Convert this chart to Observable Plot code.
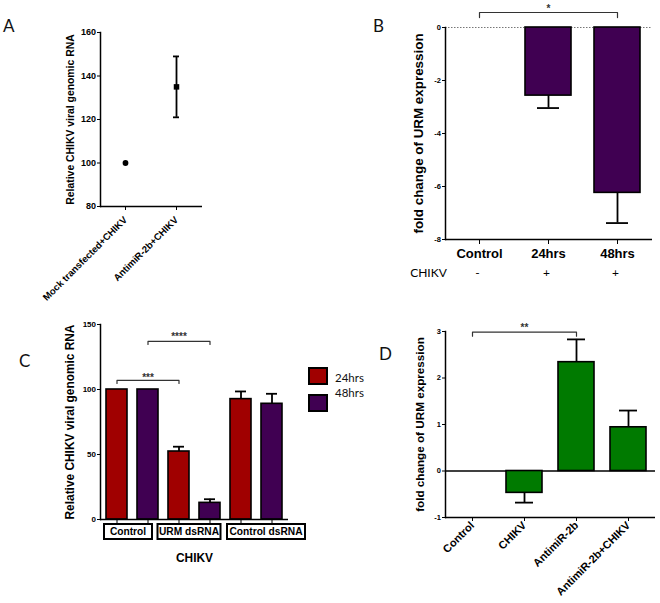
<!DOCTYPE html>
<html><head><meta charset="utf-8">
<script src="https://cdn.jsdelivr.net/npm/d3@7"></script>
<script src="https://cdn.jsdelivr.net/npm/@observablehq/plot@0.6"></script>
<style>
body{margin:0;background:#fff}
#fig{position:relative;width:660px;height:603px;overflow:hidden;background:#fff}
#fig svg{position:absolute}
.letter{position:absolute;font-family:Lato,'Open Sans',sans-serif;font-size:17px;line-height:17px;color:#111}
.box{position:absolute;border:2px solid #000;box-sizing:border-box;font:bold 10.2px 'Liberation Sans',Arial,sans-serif;text-align:center;height:17px;line-height:13px;transform:translateX(-50%);white-space:nowrap;background:#fff;color:#000}
.sw{position:absolute;width:20px;height:18px;border:2px solid #000;box-sizing:border-box}
.lt{position:absolute;font-family:Lato,'Open Sans',sans-serif;font-size:11.5px;line-height:11.5px;color:#111}
</style></head><body><div id="fig"></div><script>
// ---------- Panel A ----------
const aGroups = ["Mock transfected+CHIKV", "AntimiR-2b+CHIKV"];
const aMeans = [100, 135];
const aErrors = [0, 14];
const aSymbols = ["circle", "square"];
const aTicks = [80, 100, 120, 140, 160];
const aLabel = "Relative CHIKV viral genomic RNA";

// ---------- Panel B ----------
const bGroups = ["Control", "24hrs", "48hrs"];
const bMeans = [0, -2.57, -6.24];
const bErrors = [0, 0.47, 1.14];
const bChikv = ["-", "+", "+"];
const bTicks = [0, -2, -4, -6, -8];
const bLabel = "fold change of URM expression";
const bSig = [{from: "Control", to: "48hrs", mid: "24hrs", y: 0.566, drop: 0.19, ty: 0.72, label: "*"}];

// ---------- Panel C ----------
const cGroups = ["Control", "URM dsRNA", "Control dsRNA"];
const cSeries = ["24hrs", "48hrs"];
const c24 = [100, 52.3, 92.6];
const c24Err = [0, 3.7, 5.9];
const c48 = [100, 12.8, 89.0];
const c48Err = [0, 2.8, 7.7];
const cTicks = [0, 50, 100, 150];
const cLabel = "Relative CHIKV viral genomic RNA";
const cXLabel = "CHIKV";
const cSig = [
  {from: "Control|24hrs", to: "URM dsRNA|24hrs", mid: "Control|48hrs", y: 107, drop: 2.4, ty: 108.8, label: "***"},
  {from: "Control|48hrs", to: "URM dsRNA|48hrs", mid: "URM dsRNA|24hrs", y: 137, drop: 2.4, ty: 140.4, label: "****"}
];

// ---------- Panel D ----------
const dGroups = ["Control", "CHIKV", "AntimiR-2b", "AntimiR-2b+CHIKV"];
const dMeans = [0, -0.47, 2.34, 0.94];
const dErrors = [0, 0.21, 0.49, 0.36];
const dTicks = [-1, 0, 1, 2, 3];
const dLabel = "fold change of URM expression";
const dSig = [{from: "Control", to: "AntimiR-2b", mid: "CHIKV", y: 2.985, drop: 0.086, ty: 3.075, label: "**"}];

// ---------- styles ----------
const RED = "#a00000", PURPLE = "#400052", GREEN = "#007a00";
const FONT = "'Liberation Sans', Arial, sans-serif";
const baseStyle = {fontFamily: FONT, background: "transparent", overflow: "visible", color: "#000"};
const fig = document.getElementById("fig");
const plain = d => String(d);

function bracket(sig) {
  const pts = [];
  sig.forEach((s, i) => {
    pts.push({id: i, x: s.from, y: s.y - s.drop});
    pts.push({id: i, x: s.from, y: s.y});
    pts.push({id: i, x: s.to, y: s.y});
    pts.push({id: i, x: s.to, y: s.y - s.drop});
  });
  return [
    Plot.line(pts, {x: "x", y: "y", z: "id", stroke: "#333", strokeWidth: 1.2}),
    Plot.text(sig, {x: "mid", y: "ty", text: "label", fontSize: 10, fontWeight: "bold", fill: "#333"})
  ];
}
function yTitle(label, dx, size) {
  return Plot.text([label], {frameAnchor: "left", textAnchor: "middle", rotate: -90, dx, fontSize: size, fontWeight: "bold"});
}
function place(el, left, top) { el.style.left = left + "px"; el.style.top = top + "px"; fig.appendChild(el); }

// ---------- A ----------
const aRows = aGroups.map((g, i) => ({g, m: aMeans[i], e: aErrors[i], sym: aSymbols[i]}));
const aErr = aRows.filter(d => d.e > 0);
const plotA = Plot.plot({
  width: 250, height: 290, marginLeft: 100, marginRight: 48, marginTop: 32, marginBottom: 84,
  style: baseStyle,
  x: {type: "band", domain: aGroups, paddingInner: 0.88, paddingOuter: 0.44, axis: null},
  y: {domain: [80, 160], axis: null},
  marks: [
    Plot.ruleY([80], {strokeWidth: 1.5}),
    Plot.frame({anchor: "left", strokeWidth: 1.5}),
    Plot.axisY({ticks: aTicks, tickFormat: plain, tickSize: 3, tickPadding: 1.5, fontSize: 9, fontWeight: "bold", label: null}),
    Plot.axisX({tickSize: 4, tickRotate: -45, fontSize: 9.6, fontWeight: "bold", label: null}),
    yTitle(aLabel, -30, 10.4),
    Plot.ruleX(aErr, {x: "g", y1: d => d.m - d.e, y2: d => d.m + d.e, strokeWidth: 1.8}),
    Plot.tickY(aErr, {x: "g", y: d => d.m + d.e, strokeWidth: 1.8}),
    Plot.tickY(aErr, {x: "g", y: d => d.m - d.e, strokeWidth: 1.8}),
    Plot.dot(aRows.filter(d => d.sym === "circle"), {x: "g", y: "m", symbol: "circle", r: 2.9, fill: "#000"}),
    Plot.dot(aRows.filter(d => d.sym === "square"), {x: "g", y: "m", symbol: "square", r: 3.1, fill: "#000"})
  ]
});
place(plotA, 0, 0);

// ---------- B ----------
const bRows = bGroups.map((g, i) => ({g, m: bMeans[i], e: bErrors[i], s: bChikv[i]}));
const bBars = bRows.filter(d => d.m !== 0);
const plotB = Plot.plot({
  width: 330, height: 290, marginLeft: 115, marginRight: 8, marginTop: 27, marginBottom: 51,
  style: baseStyle,
  x: {type: "band", domain: bGroups, paddingInner: 0.33, paddingOuter: 0.165, axis: null},
  y: {domain: [-8, 0], axis: null},
  marks: [
    Plot.ruleY([0], {stroke: "#777", strokeDasharray: "1.5,1.5"}),
    Plot.ruleX(bBars, {x: "g", y1: "m", y2: d => d.m - d.e, strokeWidth: 1.8}),
    Plot.tickY(bBars, {x: "g", y: d => d.m - d.e, insetLeft: 12, insetRight: 12, strokeWidth: 1.8}),
    Plot.barY(bBars, {x: "g", y1: 0, y2: "m", fill: PURPLE, stroke: "#000", strokeWidth: 1.6}),
    Plot.ruleY([-8], {strokeWidth: 1.5}),
    Plot.frame({anchor: "left", strokeWidth: 1.5}),
    Plot.axisY({ticks: bTicks, tickFormat: plain, tickSize: 3, tickPadding: 1.5, fontSize: 7.5, fontWeight: "bold", label: null}),
    Plot.axisX({tickSize: 5, tickPadding: 4, fontSize: 13, fontWeight: "bold", label: null}),
    Plot.text(bRows, {x: "g", text: "s", frameAnchor: "bottom", textAnchor: "middle", dy: 37, dx: -2, fontSize: 12, fontFamily: "Lato, sans-serif"}),
    Plot.text(["CHIKV"], {frameAnchor: "bottom-left", textAnchor: "middle", dx: -17, dy: 37, fontSize: 12, fontFamily: "Lato, sans-serif"}),
    yTitle(bLabel, -27, 13.4),
    ...bracket(bSig)
  ]
});
place(plotB, 330, 0);

// ---------- C ----------
const cRows = [];
cGroups.forEach((g, i) => {
  cRows.push({key: g + "|" + cSeries[0], g, s: cSeries[0], m: c24[i], e: c24Err[i]});
  cRows.push({key: g + "|" + cSeries[1], g, s: cSeries[1], m: c48[i], e: c48Err[i]});
});
const cKeys = cRows.map(d => d.key);
const cErr = cRows.filter(d => d.e > 0);
const plotC = Plot.plot({
  width: 340, height: 303, marginLeft: 100, marginRight: 52, marginTop: 24, marginBottom: 84,
  style: baseStyle,
  x: {type: "band", domain: cKeys, paddingInner: 0.33, paddingOuter: 0.16, axis: null},
  y: {domain: [0, 150], axis: null},
  color: {domain: cSeries, range: [RED, PURPLE]},
  marks: [
    Plot.ruleX(cErr, {x: "key", y1: "m", y2: d => d.m + d.e, strokeWidth: 1.8}),
    Plot.tickY(cErr, {x: "key", y: d => d.m + d.e, insetLeft: 5, insetRight: 5, strokeWidth: 1.8}),
    Plot.barY(cRows, {x: "key", y1: 0, y2: "m", fill: "s", stroke: "#000", strokeWidth: 1.6}),
    Plot.ruleY([0], {strokeWidth: 1.5}),
    Plot.frame({anchor: "left", strokeWidth: 1.5}),
    Plot.axisY({ticks: cTicks, tickFormat: plain, tickSize: 3, tickPadding: 1.5, fontSize: 8, fontWeight: "bold", label: null}),
    Plot.axisX({tickSize: 4, tickFormat: () => "", label: null}),
    yTitle(cLabel, -30, 11.9),
    Plot.text([cXLabel], {frameAnchor: "bottom", dy: 42, fontSize: 11.9, fontWeight: "bold"}),
    ...bracket(cSig)
  ]
});
place(plotC, 0, 300);

// group boxes under C axis, centred with the x scale
const cx = plotC.scale("x");
const boxOffsets = [-4, -5, 10];
const boxWidths = [50, 65, 80];
cGroups.forEach((g, i) => {
  const k1 = g + "|" + cSeries[0], k2 = g + "|" + cSeries[1];
  const centre = (cx.apply(k1) + cx.apply(k2)) / 2 + cx.bandwidth / 2;
  const el = document.createElement("div");
  el.className = "box";
  el.textContent = g;
  el.style.width = boxWidths[i] + "px";
  place(el, centre + boxOffsets[i], 523);
});

// ---------- D ----------
const dRows = dGroups.map((g, i) => ({g, m: dMeans[i], e: dErrors[i]}));
const dBars = dRows.filter(d => d.m !== 0);
const plotD = Plot.plot({
  width: 320, height: 303, marginLeft: 105, marginRight: 5, marginTop: 31, marginBottom: 86,
  style: baseStyle,
  x: {type: "band", domain: dGroups, paddingInner: 0.315, paddingOuter: 0.158, axis: null},
  y: {domain: [-1, 3], axis: null},
  marks: [
    Plot.ruleX(dBars, {x: "g", y1: "m", y2: d => d.m + Math.sign(d.m) * d.e, strokeWidth: 1.8}),
    Plot.tickY(dBars, {x: "g", y: d => d.m + Math.sign(d.m) * d.e, insetLeft: 9, insetRight: 9, strokeWidth: 1.8}),
    Plot.ruleY([0], {strokeWidth: 1.5}),
    Plot.barY(dBars, {x: "g", y1: 0, y2: "m", fill: GREEN, stroke: "#000", strokeWidth: 1.6}),
    Plot.ruleY([-1], {strokeWidth: 1.5}),
    Plot.frame({anchor: "left", strokeWidth: 1.5}),
    Plot.axisY({ticks: dTicks, tickFormat: plain, tickSize: 3, tickPadding: 1.5, fontSize: 7.5, fontWeight: "bold", label: null}),
    Plot.axisX({tickSize: 4, tickPadding: 2, tickRotate: -45, fontSize: 11, fontWeight: "bold", label: null}),
    yTitle(dLabel, -25, 11.7),
    ...bracket(dSig)
  ]
});
place(plotD, 340, 300);

// ---------- legend for C ----------
const legColors = [RED, PURPLE];
cSeries.forEach((s, i) => {
  const sw = document.createElement("div");
  sw.className = "sw"; sw.style.background = legColors[i];
  place(sw, 308, 367 + i * 27);
  const t = document.createElement("div");
  t.className = "lt"; t.textContent = s;
  place(t, 335, 372 + i * 15);
});

// ---------- panel letters ----------
const letters = [["A", 3, 17], ["B", 373, 17], ["C", 19, 352], ["D", 379, 345]];
letters.forEach(([l, x, y]) => {
  const el = document.createElement("div");
  el.className = "letter"; el.textContent = l;
  place(el, x, y);
});
</script></body></html>
